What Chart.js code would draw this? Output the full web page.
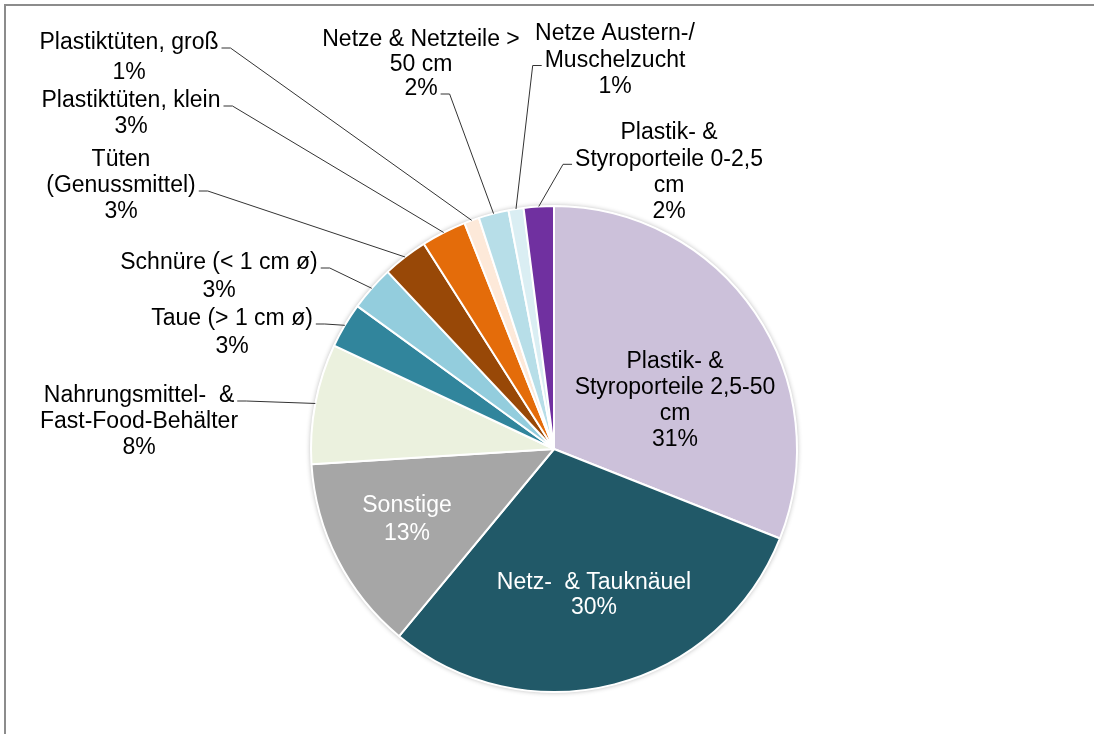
<!DOCTYPE html>
<html lang="de">
<head>
    <meta charset="UTF-8">
    <title>Zusammensetzung Plastikmüll</title>
    <script src="https://cdn.jsdelivr.net/npm/chart.js"></script>
    <style>
        body {
            margin: 0;
            background: #fff;
        }

        /* Rahmen nur oben und links, wie im Diagrammbereich */
        #rahmen {
            position: relative;
            width: 1094px;
            height: 734px;
        }

        #rahmen::before {
            content: '';
            position: absolute;
            left: 4px;
            top: 4px;
            right: 0;
            bottom: 0;
            border-top: 2px solid #8c8c8c;
            border-left: 2px solid #8c8c8c;
            pointer-events: none;
        }

        canvas {
            display: block;
        }
    </style>
</head>
<body>

<div id="rahmen">
    <canvas id="muellChart" width="1094" height="734"></canvas>
</div>

<script>
    // Kategorien im Uhrzeigersinn ab 12 Uhr
    const kategorien = [
        'Plastik- & Styroporteile 2,5-50 cm',
        'Netz- & Tauknäuel',
        'Sonstige',
        'Nahrungsmittel- & Fast-Food-Behälter',
        'Taue (> 1 cm ø)',
        'Schnüre (< 1 cm ø)',
        'Tüten (Genussmittel)',
        'Plastiktüten, klein',
        'Plastiktüten, groß',
        'Netze & Netzteile > 50 cm',
        'Netze Austern-/ Muschelzucht',
        'Plastik- & Styroporteile 0-2,5 cm'
    ];

    // Anteile in Prozent
    const anteile = [31, 30, 13, 8, 3, 3, 3, 3, 1, 2, 1, 2];

    // Umbrochene Beschriftung (ohne Prozentzeile)
    const beschriftungen = [
        ['Plastik- &', 'Styroporteile 2,5-50', 'cm'],
        ['Netz-  & Tauknäuel'],
        ['Sonstige'],
        ['Nahrungsmittel-  &', 'Fast-Food-Behälter'],
        ['Taue (> 1 cm ø)'],
        ['Schnüre (< 1 cm ø)'],
        ['Tüten', '(Genussmittel)'],
        ['Plastiktüten, klein'],
        ['Plastiktüten, groß'],
        ['Netze & Netzteile >', '50 cm'],
        ['Netze Austern-/', 'Muschelzucht'],
        ['Plastik- &', 'Styroporteile 0-2,5', 'cm']
    ];

    const farben = [
        '#CCC1DA', '#215968', '#A6A6A6', '#EBF1DE', '#31859C', '#93CDDD',
        '#984807', '#E46C0A', '#FDE9D9', '#B7DEE8', '#DAEEF3', '#7030A0'
    ];

    // Lage der Beschriftungen (Textmitte, erste Zeile) und Ansatz der Führungslinie
    const ZEILE = 26;
    const labelLage = [
        { x: 675, y: 362 },
        { x: 594, y: 583, weiss: true, abstand: 25 },
        { x: 407, y: 506, weiss: true, abstand: 27.5 },
        { x: 139, y: 396, anker: { seite: 1, zeile: 0 } },
        { x: 232, y: 319, abstand: 27.5, anker: { seite: 1, zeile: 0 } },
        { x: 219, y: 263, abstand: 27.5, anker: { seite: 1, zeile: 0 } },
        { x: 121, y: 160, anker: { seite: 1, zeile: 1 } },
        { x: 131, y: 101, abstand: 25.5, anker: { seite: 1, zeile: 0 } },
        { x: 129, y: 43, abstand: 29.5, anker: { seite: 1, zeile: 0 } },
        { x: 421, y: 40, abstand: 24.5, anker: { seite: 1, zeile: 2 } },
        { x: 615, y: 34, abstand: 26.5, anker: { seite: -1, zeile: 1 } },
        { x: 669, y: 133, abstand: 26.3, anker: { seite: -1, zeile: 1 } }
    ];

    // Leichter Schatten um die Torte
    const schattenPlugin = {
        id: 'schatten',
        beforeDatasetsDraw(chart) {
            const arc = chart.getDatasetMeta(0).data[0];
            if (!arc) return;
            const ctx = chart.ctx;
            ctx.save();
            ctx.shadowColor = 'rgba(0, 0, 0, 0.3)';
            ctx.shadowBlur = 5;
            ctx.fillStyle = '#fff';
            ctx.beginPath();
            ctx.arc(arc.x, arc.y, arc.outerRadius + 0.5, 0, Math.PI * 2);
            ctx.fill();
            ctx.restore();
        }
    };

    // Beschriftungen und Führungslinien
    const beschriftungPlugin = {
        id: 'beschriftung',
        afterDatasetsDraw(chart) {
            const ctx = chart.ctx;
            const arcs = chart.getDatasetMeta(0).data;
            ctx.save();
            ctx.font = '23px "Liberation Sans", Arial, sans-serif';
            ctx.textAlign = 'center';
            ctx.textBaseline = 'middle';
            ctx.strokeStyle = '#333';
            ctx.lineWidth = 1;

            arcs.forEach((arc, i) => {
                const lage = labelLage[i];
                const abstand = lage.abstand || ZEILE;
                const zeilen = beschriftungen[i].concat(anteile[i] + '%');

                ctx.fillStyle = lage.weiss ? '#fff' : '#000';
                zeilen.forEach((z, k) => ctx.fillText(z, lage.x, lage.y + k * abstand));

                if (!lage.anker) return;
                const p = arc.getProps(['x', 'y', 'startAngle', 'endAngle', 'outerRadius'], true);
                const mitte = (p.startAngle + p.endAngle) / 2;
                const px = p.x + Math.cos(mitte) * p.outerRadius;
                const py = p.y + Math.sin(mitte) * p.outerRadius;

                const dir = lage.anker.seite;
                const breite = ctx.measureText(zeilen[lage.anker.zeile]).width;
                const sx = lage.x + dir * (breite / 2 + 3);
                const sy = lage.y + lage.anker.zeile * abstand + 5;

                ctx.beginPath();
                ctx.moveTo(sx, sy);
                ctx.lineTo(sx + dir * 9, sy);
                ctx.lineTo(px, py);
                ctx.stroke();
            });
            ctx.restore();
        }
    };

    const ctx = document.getElementById('muellChart').getContext('2d');
    const muellChart = new Chart(ctx, {
        type: 'pie',
        data: {
            labels: kategorien,
            datasets: [{
                data: anteile,
                backgroundColor: farben,
                borderColor: '#fff',
                borderWidth: 2
            }]
        },
        options: {
            responsive: false,
            animation: false,
            radius: 243,
            layout: {
                padding: { left: 200, right: 186, top: 200, bottom: 36 }
            },
            plugins: {
                legend: { display: false },
                tooltip: { enabled: false }
            }
        },
        plugins: [schattenPlugin, beschriftungPlugin]
    });
</script>

</body>
</html>
